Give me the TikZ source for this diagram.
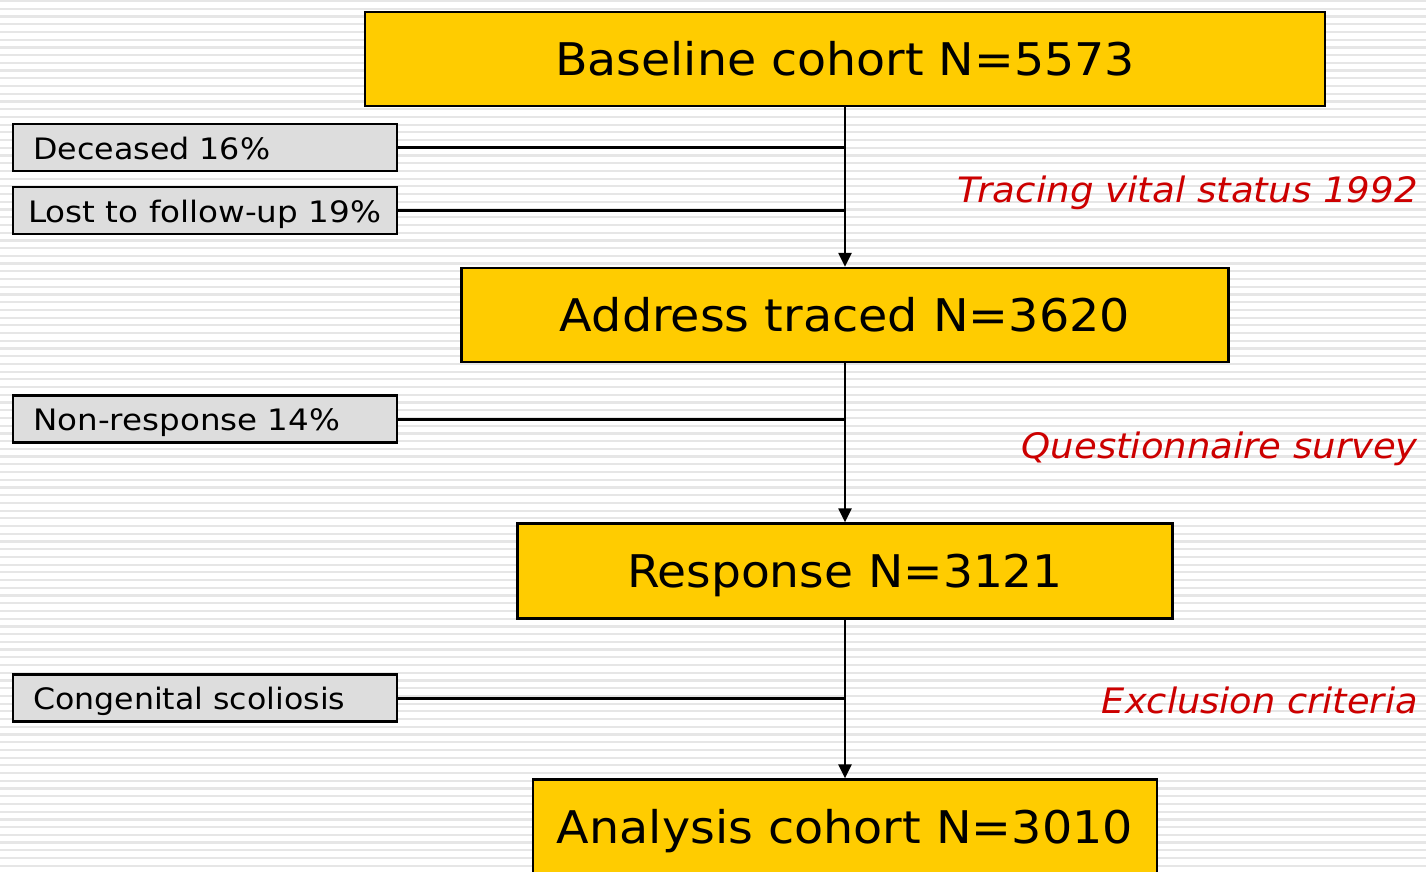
\documentclass[tikz,border=0pt]{standalone}
\usepackage{fontspec}
\setmainfont{DejaVu Sans}
\usepackage{graphicx}
\usetikzlibrary{arrows.meta}
\definecolor{boxyellow}{HTML}{FFCC00}
\definecolor{boxgray}{HTML}{DDDDDD}
\definecolor{stripegray}{HTML}{E6E6E6}
\definecolor{labelred}{HTML}{CC0000}
\newcommand{\fitw}[2]{\resizebox{#1}{\height}{#2}}
\tikzset{
  mainbox/.style={draw=black, line width=2.3pt, fill=boxyellow, inner sep=0pt,
    font=\fontsize{45}{48}\selectfont, text height=33pt, text depth=0pt},
  sidebox/.style={draw=black, line width=2.5pt, fill=boxgray, inner sep=0pt,
    minimum width=384pt, minimum height=47pt},
  sidetext/.style={inner sep=0pt, anchor=base west, font=\fontsize{29.5}{32}\selectfont},
  phase/.style={inner sep=0pt, anchor=base east, text=labelred, font=\fontsize{35}{38}\selectfont\itshape},
  link/.style={line width=3pt, draw=black},
  flow/.style={line width=2.3pt, draw=black, -{Triangle[length=14pt,width=13pt]}},
}
\begin{document}
\begin{tikzpicture}[x=1pt,y=-1pt]
\useasboundingbox (0,0) rectangle (1426,871);
\clip (0,0) rectangle (1426,871);
\fill[white] (0,0) rectangle (1426,871);
\foreach \i in {0,...,113} {
  \fill[stripegray] (0,{\i*7.72}) rectangle (1426,{\i*7.72+2.2});
}
% main boxes
\node[mainbox, minimum width=960pt, minimum height=94pt] (base) at (845,59) {\fitw{580pt}{Baseline cohort N=5573}};
\node[mainbox, minimum width=767pt, minimum height=94pt] (addr) at (845,315) {\fitw{570pt}{Address traced N=3620}};
\node[mainbox, minimum width=655pt, minimum height=95pt] (resp) at (845,571) {\fitw{436pt}{Response N=3121}};
\node[mainbox, minimum width=624pt, minimum height=95pt] (anal) at (845,827) {\fitw{576pt}{Analysis cohort N=3010}};
% side boxes
\node[sidebox] (dec) at (205,147.5) {};
\node[sidebox] (lost) at (205,210.5) {};
\node[sidebox] (nonr) at (205,419) {};
\node[sidebox] (cong) at (205,698) {};
\node[sidetext] (dect) at (33,159) {\fitw{237pt}{Deceased 16\%}};
\node[sidetext] (lostt) at (28,222) {\fitw{353pt}{Lost to follow-up 19\%}};
\node[sidetext] (nonrt) at (33,430) {\fitw{307pt}{Non-response 14\%}};
\node[sidetext] (congt) at (33,709) {\fitw{312pt}{Congenital scoliosis}};
% phase labels
\node[phase] (p1) at (1418,202) {\fitw{460pt}{Tracing vital status 1992}};
\node[phase] (p2) at (1418,458) {\fitw{396pt}{Questionnaire survey}};
\node[phase] (p3) at (1418,713) {\fitw{316pt}{Exclusion criteria}};
% connectors
\draw[link] (dec.east) -- (dec.east -| base.south);
\draw[link] (lost.east) -- (lost.east -| base.south);
\draw[link] (nonr.east) -- (nonr.east -| addr.south);
\draw[link] (cong.east) -- (cong.east -| resp.south);
\draw[flow] (base.south) -- (addr.north);
\draw[flow] (addr.south) -- (resp.north);
\draw[flow] (resp.south) -- (anal.north);
\end{tikzpicture}
\end{document}
